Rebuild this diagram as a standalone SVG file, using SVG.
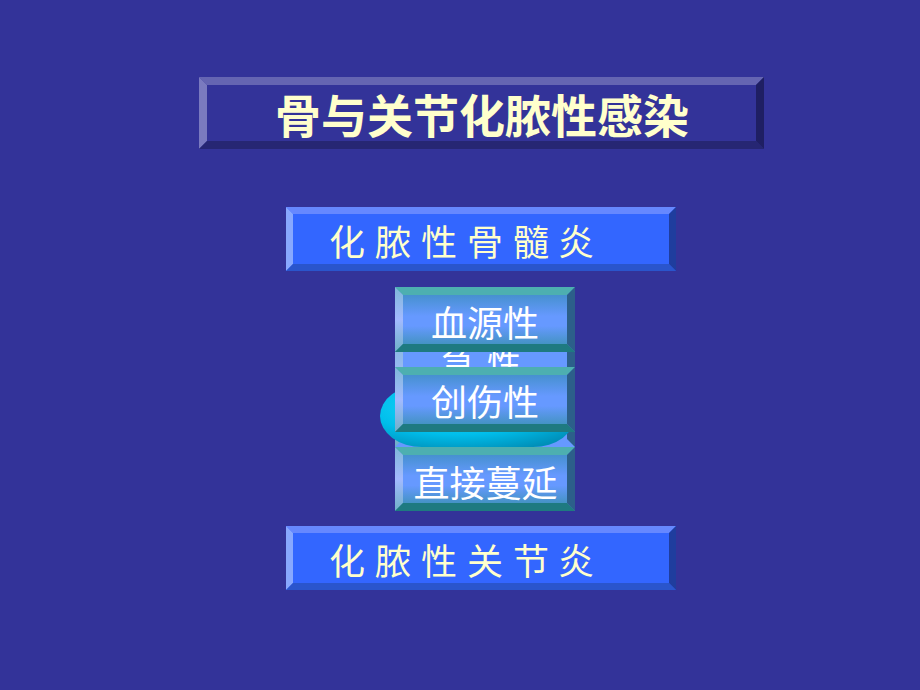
<svg xmlns="http://www.w3.org/2000/svg" width="920" height="690" viewBox="0 0 920 690">
<defs>
<style>
.cjk{font-family:"Noto Sans CJK SC","Noto Sans CJK JP",sans-serif;}
.ttl{font-size:46px;fill:#FFFFCC;text-anchor:middle;font-weight:bold;}
.lbl{font-size:36px;fill:#FFFFCC;}
.stk{font-size:36px;fill:#FFFFFF;text-anchor:middle;}
.tface{fill:#333399;}
.ttop{fill:#6565B2;}
.tleft{fill:#7A7ABF;}
.tbot{fill:#262673;}
.tright{fill:#1F1F63;}
.bface{fill:#3366FF;}
.btop{fill:#6688FF;}
.bleft{fill:#88A8FF;}
.bbot{fill:#2A55CC;}
.bright{fill:#1F3D9E;}
.sface{fill:url(#sg);}
.stop{fill:#4DAFB0;}
.sleft{fill:url(#sl);}
.sbot{fill:#1E7A80;}
.sright{fill:#2C5F8A;}
</style>
<linearGradient id="sg" x1="0" y1="0" x2="0" y2="1">
<stop offset="0" stop-color="#3A8DBE"/>
<stop offset="0.45" stop-color="#6699FF"/>
<stop offset="0.6" stop-color="#6699FF"/>
<stop offset="1" stop-color="#3590AA"/>
</linearGradient>
<linearGradient id="sl" x1="0" y1="0" x2="0" y2="1">
<stop offset="0" stop-color="#7FB8D8"/>
<stop offset="0.5" stop-color="#A3BAFF"/>
<stop offset="1" stop-color="#6FB0C8"/>
</linearGradient>
<radialGradient id="eg" cx="0.4" cy="0.35" r="0.75">
<stop offset="0" stop-color="#22DDFF"/>
<stop offset="0.6" stop-color="#00BEEB"/>
<stop offset="1" stop-color="#008FB8"/>
</radialGradient>
</defs>
<rect x="0" y="0" width="920" height="690" fill="#333399"/>

<g id="title">
<rect class="tface" x="199" y="77" width="565" height="72"/>
<polygon class="ttop" points="199,77 764,77 756,85 207,85"/>
<polygon class="tleft" points="199,77 207,85 207,141 199,149"/>
<polygon class="tbot" points="199,149 207,141 756,141 764,149"/>
<polygon class="tright" points="764,77 764,149 756,141 756,85"/>
<text class="cjk ttl" x="482" y="133">骨与关节化脓性感染</text>
</g>

<g id="osteomyelitis">
<rect class="bface" x="286" y="207" width="390" height="64"/>
<polygon class="btop" points="286,207 676,207 669,214 293,214"/>
<polygon class="bleft" points="286,207 293,214 293,264 286,271"/>
<polygon class="bbot" points="286,271 293,264 669,264 676,271"/>
<polygon class="bright" points="676,207 676,271 669,264 669,214"/>
<text class="cjk lbl" x="329 364 375 411 421 456 467 503 513 548 558" y="256">化 脓 性 骨 髓 炎</text>
</g>

<g id="acute">
<rect x="395" y="330" width="180" height="117" fill="#6699FF"/>
<polygon class="sleft" points="395,330 403,338 403,439 395,447"/>
<polygon class="sright" points="575,330 575,447 567,439 567,338"/>
<text class="cjk" x="441 472 487" y="376" fill="#FFFFFF" font-size="34">急 性</text>
</g>

<g id="oval">
<rect x="380" y="385" width="195" height="62" rx="42" ry="31" fill="url(#eg)"/>
</g>

<g id="hematogenous">
<rect class="sface" x="395" y="287" width="180" height="65"/>
<polygon class="stop" points="395,287 575,287 567,295 403,295"/>
<polygon class="sleft" points="395,287 403,295 403,344 395,352"/>
<polygon class="sbot" points="395,352 403,344 567,344 575,352"/>
<polygon class="sright" points="575,287 575,352 567,344 567,295"/>
<text class="cjk stk" x="485" y="337">血源性</text>
</g>

<g id="traumatic">
<rect class="sface" x="395" y="367" width="180" height="65"/>
<polygon class="stop" points="395,367 575,367 567,375 403,375"/>
<polygon class="sleft" points="395,367 403,375 403,424 395,432"/>
<polygon class="sbot" points="395,432 403,424 567,424 575,432"/>
<polygon class="sright" points="575,367 575,432 567,424 567,375"/>
<text class="cjk stk" x="485" y="416">创伤性</text>
</g>

<g id="direct">
<rect class="sface" x="395" y="447" width="180" height="64"/>
<polygon class="stop" points="395,447 575,447 567,455 403,455"/>
<polygon class="sleft" points="395,447 403,455 403,503 395,511"/>
<polygon class="sbot" points="395,511 403,503 567,503 575,511"/>
<polygon class="sright" points="575,447 575,511 567,503 567,455"/>
<text class="cjk stk" x="485.5" y="497">直接蔓延</text>
</g>

<g id="arthritis">
<rect class="bface" x="286" y="526" width="390" height="64"/>
<polygon class="btop" points="286,526 676,526 669,533 293,533"/>
<polygon class="bleft" points="286,526 293,533 293,583 286,590"/>
<polygon class="bbot" points="286,590 293,583 669,583 676,590"/>
<polygon class="bright" points="676,526 676,590 669,583 669,533"/>
<text class="cjk lbl" x="329 364 375 411 421 456 467 503 513 548 558" y="575">化 脓 性 关 节 炎</text>
</g>

<g id="connectors"></g>
</svg>
